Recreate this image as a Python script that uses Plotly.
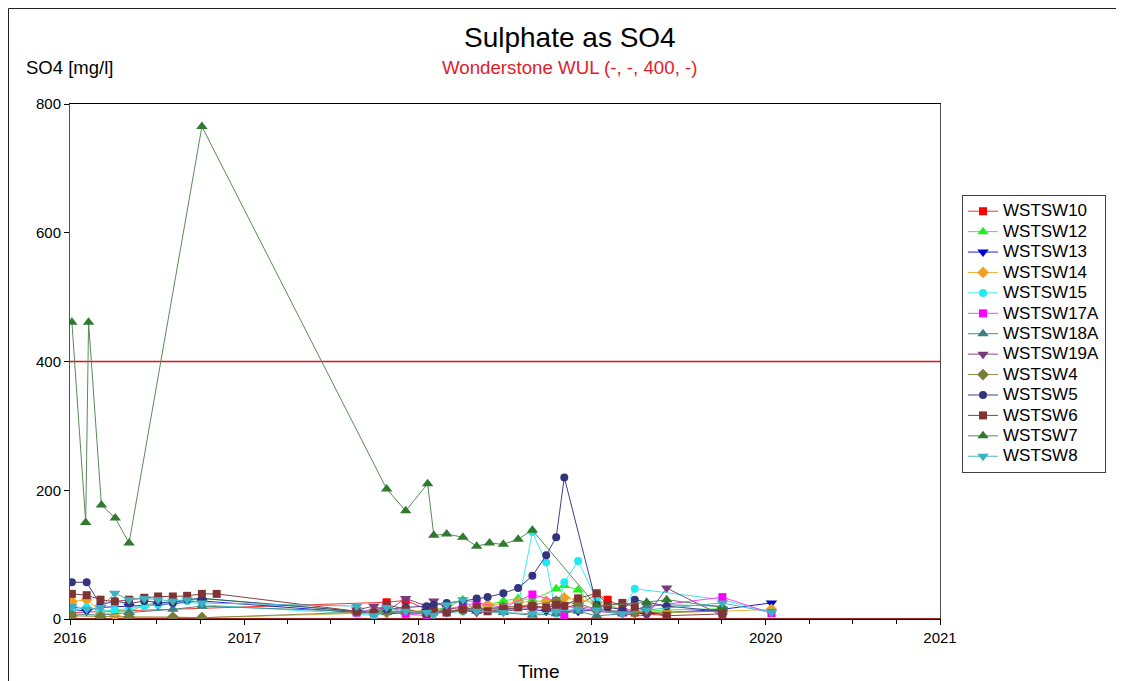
import plotly.graph_objects as go

# ---------------- data ----------------
limit_value = 400
limit_x = ["2016-01-01", "2021-01-01"]

wstsw10_x = ["2016-01-05", "2017-10-27", "2017-12-06", "2018-01-19", "2018-03-02", "2018-05-04", "2018-06-29",
             "2018-08-29", "2018-10-18", "2018-12-03", "2019-01-11", "2019-02-03", "2019-04-01", "2019-06-07"]
wstsw10_y = [10, 26, 29, 15, 12, 14, 18, 20, 16, 22, 38, 30, 10, 5]

wstsw12_x = ["2016-03-05", "2016-04-04", "2016-05-04", "2016-06-05", "2016-07-04", "2016-08-04", "2016-09-03",
             "2016-10-04", "2017-08-25", "2017-10-27", "2017-12-06", "2018-01-19", "2018-03-02", "2018-04-05",
             "2018-05-27", "2018-06-29", "2018-07-30", "2018-08-29", "2018-10-18", "2018-11-04", "2018-12-03",
             "2019-01-11", "2019-03-06", "2019-04-26", "2019-06-07", "2019-10-02"]
wstsw12_y = [11, 14, 11, 22, 25, 28, 30, 32, 12, 14, 10, 12, 18, 30, 22, 28, 32, 30, 47, 52, 45, 15, 10, 12, 14, 16]

wstsw13_x = ["2016-01-05", "2016-02-05", "2016-03-05", "2016-05-04", "2016-07-04", "2016-10-04", "2017-08-25",
             "2017-10-27", "2018-01-19", "2018-03-02", "2018-05-04", "2018-06-29", "2018-08-29", "2018-09-27",
             "2018-10-18", "2018-12-03", "2019-01-11", "2019-03-06", "2019-04-26", "2019-10-02", "2020-01-13"]
wstsw13_y = [15, 12, 18, 20, 22, 28, 10, 8, 12, 10, 14, 16, 15, 12, 12, 12, 14, 10, 8, 15, 25]

wstsw14_x = ["2016-01-05", "2016-02-05", "2016-03-05", "2016-04-04", "2016-05-04", "2016-10-04", "2017-10-27",
             "2018-02-03", "2018-04-05", "2018-05-27", "2018-07-30", "2018-09-27", "2018-11-04", "2018-12-03",
             "2019-01-11", "2019-04-01", "2019-06-07", "2019-10-02", "2020-01-13"]
wstsw14_y = [27, 30, 12, 5, 3, 2, 10, 14, 18, 22, 26, 28, 33, 30, 25, 12, 10, 12, 15]

wstsw15_x = ["2016-01-05", "2016-02-05", "2016-03-05", "2016-04-04", "2016-05-04", "2016-06-05", "2016-07-04",
             "2016-08-04", "2016-09-03", "2016-10-04", "2017-08-25", "2017-09-30", "2017-10-27", "2017-12-06",
             "2018-01-19", "2018-03-02", "2018-04-05", "2018-05-04", "2018-06-29", "2018-07-30", "2018-08-29",
             "2018-09-27", "2018-10-18", "2018-11-04", "2018-12-03", "2019-01-11", "2019-03-06", "2019-04-01",
             "2019-10-02", "2020-01-13"]
wstsw15_y = [14, 18, 12, 14, 16, 20, 22, 25, 28, 22, 8, 5, 10, 12, 8, 10, 12, 14, 16, 20, 135,
             88, 8, 57, 90, 30, 12, 47, 30, 10]

wstsw17a_x = ["2017-08-25", "2017-10-27", "2017-12-06", "2018-01-19", "2018-03-02", "2018-04-05", "2018-05-04",
              "2018-06-29", "2018-08-29", "2018-10-18", "2018-11-04", "2018-12-03", "2019-01-11", "2019-03-06",
              "2019-04-26", "2019-10-02", "2020-01-13"]
wstsw17a_y = [10, 20, 8, 5, 15, 20, 25, 18, 38, 28, 6, 20, 15, 10, 19, 34, 9]

wstsw18a_x = ["2016-01-05", "2016-03-05", "2016-05-04", "2016-08-04", "2016-10-04", "2017-08-25", "2017-10-27",
              "2018-01-19", "2018-03-02", "2018-05-04", "2018-06-29", "2018-08-29", "2018-10-18", "2018-12-03",
              "2019-01-11", "2019-03-06", "2019-04-26", "2019-06-07", "2019-10-02"]
wstsw18a_y = [8, 6, 10, 15, 20, 12, 10, 8, 14, 12, 10, 6, 8, 12, 5, 8, 20, 22, 20]

wstsw19a_x = ["2017-08-25", "2017-09-30", "2017-10-27", "2017-12-06", "2018-01-19", "2018-02-03", "2018-03-02",
              "2018-04-05", "2018-05-04", "2018-06-29", "2018-08-29", "2018-10-18", "2018-12-03", "2019-01-11",
              "2019-03-06", "2019-04-26", "2019-06-07", "2019-10-02"]
wstsw19a_y = [14, 20, 12, 32, 20, 28, 18, 14, 10, 12, 16, 20, 18, 12, 8, 5, 48, 5]

wstsw4_x = ["2016-01-05", "2016-03-05", "2016-05-04", "2016-08-04", "2016-10-04", "2017-10-27", "2018-01-19",
            "2018-04-05", "2018-06-29", "2018-08-29", "2018-10-18", "2018-12-03", "2019-01-11", "2019-04-01",
            "2019-10-02"]
wstsw4_y = [5, 4, 3, 3, 2, 12, 10, 14, 18, 22, 28, 24, 15, 10, 12]

wstsw5_x = ["2016-01-05", "2016-02-05", "2016-03-05", "2016-04-04", "2016-05-04", "2016-06-05", "2016-07-04",
            "2016-08-04", "2016-09-03", "2016-10-04", "2017-08-25", "2017-09-30", "2017-10-27", "2017-12-06",
            "2018-01-19", "2018-02-03", "2018-03-02", "2018-04-05", "2018-05-04", "2018-05-27", "2018-06-29",
            "2018-07-30", "2018-08-29", "2018-09-27", "2018-10-18", "2018-11-04", "2019-01-11", "2019-02-03",
            "2019-03-06", "2019-04-01", "2019-06-07", "2019-10-02"]
wstsw5_y = [57, 57, 22, 28, 24, 28, 26, 25, 30, 32, 12, 10, 15, 18, 20, 22, 25, 28, 32, 34, 40,
            48, 67, 99, 127, 220, 22, 18, 15, 30, 20, 12]

wstsw6_x = ["2016-01-05", "2016-02-05", "2016-03-05", "2016-04-04", "2016-05-04", "2016-06-05", "2016-07-04",
            "2016-08-04", "2016-09-03", "2016-10-04", "2016-11-04", "2017-08-25", "2017-09-30", "2017-10-27",
            "2017-12-06", "2018-01-19", "2018-02-03", "2018-03-02", "2018-04-05", "2018-05-04", "2018-05-27",
            "2018-06-29", "2018-07-30", "2018-08-29", "2018-09-27", "2018-10-18", "2018-11-04", "2018-12-03",
            "2019-01-11", "2019-02-03", "2019-03-06", "2019-04-01", "2019-04-26", "2019-06-07", "2019-10-02"]
wstsw6_y = [39, 37, 30, 27, 30, 33, 35, 35, 36, 39, 39, 12, 10, 22, 15, 8, 12, 10, 15, 18, 12,
            15, 18, 20, 18, 22, 20, 32, 40, 22, 25, 19, 12, 5, 8]

wstsw7_x = ["2016-01-05", "2016-02-03", "2016-02-09", "2016-03-07", "2016-04-05", "2016-05-04", "2016-10-04",
            "2017-10-27", "2017-12-06", "2018-01-21", "2018-02-03", "2018-03-02", "2018-04-05", "2018-05-04",
            "2018-05-31", "2018-06-29", "2018-07-30", "2018-08-29", "2019-01-11", "2019-04-26", "2019-06-07",
            "2019-10-02"]
wstsw7_y = [461, 150, 461, 177, 157, 118, 765, 202, 168, 210, 130, 132, 127, 113, 118, 116, 124, 138,
            20, 26, 30, 18]

wstsw8_x = ["2016-01-05", "2016-02-05", "2016-03-05", "2016-04-04", "2016-05-04", "2016-06-05", "2016-07-04",
            "2016-08-04", "2016-09-03", "2016-10-04", "2017-08-25", "2017-09-30", "2017-10-27", "2017-12-06",
            "2018-01-19", "2018-02-03", "2018-03-02", "2018-04-05", "2018-05-04", "2018-06-29", "2018-08-29",
            "2018-10-18", "2018-12-03", "2019-01-11", "2019-03-06", "2019-04-26", "2019-10-02", "2020-01-13"]
wstsw8_y = [20, 15, 18, 40, 30, 32, 30, 28, 30, 25, 20, 5, 18, 12, 10, 6, 22, 30, 12, 10, 8,
            12, 15, 14, 8, 14, 25, 10]

series_names = ["WSTSW10", "WSTSW12", "WSTSW13", "WSTSW14", "WSTSW15", "WSTSW17A", "WSTSW18A",
                "WSTSW19A", "WSTSW4", "WSTSW5", "WSTSW6", "WSTSW7", "WSTSW8"]
series_x = [wstsw10_x, wstsw12_x, wstsw13_x, wstsw14_x, wstsw15_x, wstsw17a_x, wstsw18a_x,
            wstsw19a_x, wstsw4_x, wstsw5_x, wstsw6_x, wstsw7_x, wstsw8_x]
series_y = [wstsw10_y, wstsw12_y, wstsw13_y, wstsw14_y, wstsw15_y, wstsw17a_y, wstsw18a_y,
            wstsw19a_y, wstsw4_y, wstsw5_y, wstsw6_y, wstsw7_y, wstsw8_y]

x_tick_vals = ["2016-01-01", "2017-01-01", "2018-01-01", "2019-01-01", "2020-01-01", "2021-01-01"]
x_tick_text = ["2016", "2017", "2018", "2019", "2020", "2021"]
y_tick_vals = [0, 200, 400, 600, 800]

# ---------------- style ----------------
colors = ["#FF0000", "#22EE22", "#0000CC", "#F0A020", "#22E8F0", "#FF00FF", "#3A8080",
          "#7A3A7A", "#7A7A3A", "#333380", "#803333", "#307A30", "#40B0C0"]
line_colors = ["#FF3030", "#44EE44", "#2020CC", "#F0B040", "#40E8F0", "#FF40FF", "#4A8A8A",
               "#8A4A8A", "#8A8A4A", "#40408A", "#8A4040", "#5A8A5A", "#50B8C8"]
symbols = ["square", "triangle-up", "triangle-down", "diamond", "circle", "square", "triangle-up",
           "triangle-down", "diamond", "circle", "square", "triangle-up", "triangle-down"]
sizes = [8, 10, 10, 9, 8, 8, 10, 10, 9, 8, 8, 10, 10]

FONT = "Liberation Sans, Arial, sans-serif"

# page pixel geometry of the plot area (page has an 8px body margin)
px_l, px_r, px_t, px_b = 70, 940, 104, 619
OFF = 8


def to_paper(xp, yp):
    return (xp - px_l) / (px_r - px_l), (px_b - yp) / (px_b - px_t)


fig = go.Figure()

fig.add_trace(go.Scatter(x=limit_x, y=[limit_value, limit_value], mode="lines",
                         line=dict(color="#E01010", width=1.4), showlegend=False, hoverinfo="skip"))
fig.add_trace(go.Scatter(x=limit_x, y=[0, 0], mode="lines",
                         line=dict(color="#A02020", width=2), showlegend=False, hoverinfo="skip"))

for name, xs, ys, c, lc, s, sz in zip(series_names, series_x, series_y, colors, line_colors, symbols, sizes):
    fig.add_trace(go.Scatter(
        x=xs, y=ys, mode="lines+markers",
        name='<span style="font-size:17px">' + name + '</span>',
        line=dict(color=lc, width=1),
        marker=dict(color=c, symbol=s, size=sz, line=dict(width=0)),
    ))

lgx, lgy = to_paper(962, 195)

fig.update_layout(
    width=1124, height=681,
    margin=dict(l=px_l - OFF, r=1124 - (px_r - OFF), t=px_t - OFF, b=681 - (px_b - OFF)),
    paper_bgcolor="white", plot_bgcolor="white",
    font=dict(family=FONT, size=15, color="black"),
    showlegend=True,
    legend=dict(
        x=lgx, y=lgy, xanchor="left", yanchor="top",
        bordercolor="#404040", borderwidth=1, bgcolor="white",
        font=dict(family=FONT, size=13.4, color="black"),
        tracegroupgap=0, itemwidth=30,
    ),
    xaxis=dict(
        type="date", range=["2016-01-01", "2021-01-01"],
        tickvals=x_tick_vals, ticktext=x_tick_text,
        ticks="outside", ticklen=5, tickcolor="black",
        showline=True, linecolor="black", linewidth=1, mirror=True,
        showgrid=False, zeroline=False,
        minor=dict(dtick="M3", tick0="2016-01-01", ticks="outside", ticklen=4, tickcolor="black", showgrid=False),
        tickfont=dict(size=15),
    ),
    yaxis=dict(
        range=[0, 800], tickvals=y_tick_vals,
        ticks="outside", ticklen=5, tickcolor="black",
        showline=True, linecolor="#505050", linewidth=1, mirror=True,
        showgrid=False, zeroline=False,
        tickfont=dict(size=15),
    ),
)

anns = []
ax, ay = to_paper(570, 37)
anns.append(dict(text="Sulphate as SO4", x=ax, y=ay, xref="paper", yref="paper", showarrow=False,
                 xanchor="center", yanchor="middle", font=dict(size=28, color="black", family=FONT)))
ax, ay = to_paper(569, 67)
anns.append(dict(text="Wonderstone WUL (-, -, 400, -)", x=ax, y=ay, xref="paper", yref="paper", showarrow=False,
                 xanchor="center", yanchor="middle", font=dict(size=18.7, color="#E0202A", family=FONT)))
ax, ay = to_paper(24, 67)
anns.append(dict(text="SO4 [mg/l]", x=ax, y=ay, xref="paper", yref="paper", showarrow=False,
                 xanchor="left", yanchor="middle", font=dict(size=18.5, color="black", family=FONT)))
ax, ay = to_paper(539, 671)
anns.append(dict(text="Time", x=ax, y=ay, xref="paper", yref="paper", showarrow=False,
                 xanchor="center", yanchor="middle", font=dict(size=19, color="black", family=FONT)))
fig.update_layout(annotations=anns)

# outer frame (left and top edges visible)
lx, ty = to_paper(8.5, 8.5)
rx, by = to_paper(1140, 700)
fig.add_shape(type="line", xref="paper", yref="paper", x0=lx, x1=lx, y0=by, y1=ty,
              line=dict(color="#202020", width=1))
fig.add_shape(type="line", xref="paper", yref="paper", x0=lx, x1=rx, y0=ty, y1=ty,
              line=dict(color="#202020", width=1))

fig.write_html("out.html")
